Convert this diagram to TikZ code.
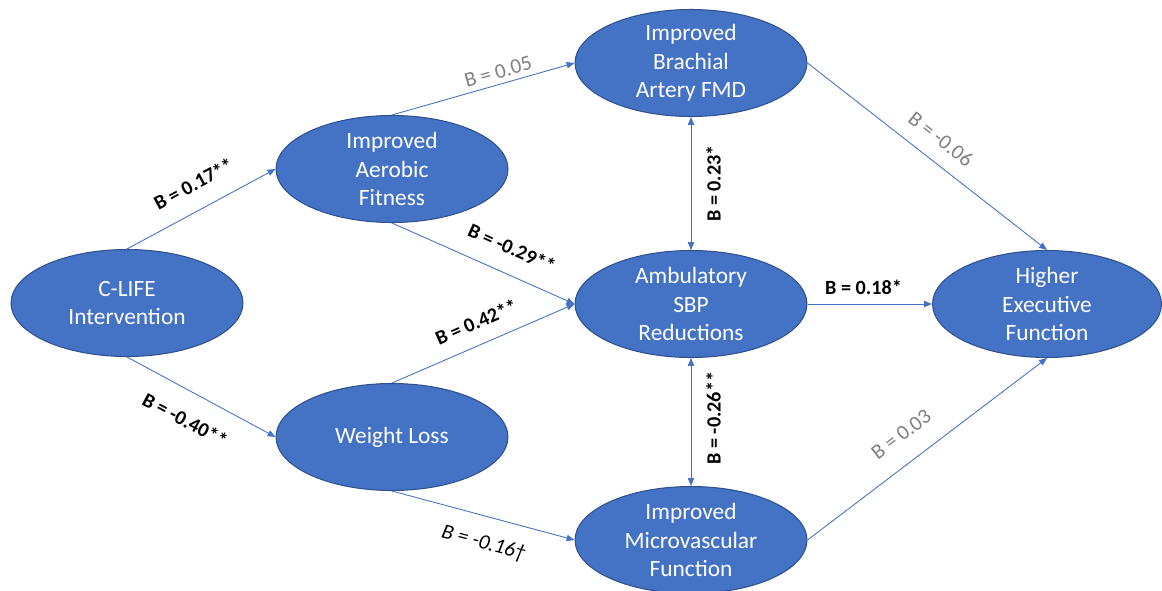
\documentclass[tikz,border=0pt]{standalone}
\usepackage{fontspec}
\setmainfont{Carlito}
\usepackage{xcolor}
\usetikzlibrary{shapes.geometric, arrows.meta}

\definecolor{nodeblue}{HTML}{4472C4}
\definecolor{rimblue}{HTML}{2F528F}
\definecolor{nsgray}{HTML}{7F7F7F}

\begin{document}
\begin{tikzpicture}[x=0.02cm, y=-0.02cm, >={Triangle[length=4.5pt, width=3.6pt]}]
    \tikzstyle{factor} = [ellipse, draw=rimblue, fill=nodeblue, line width=0.6pt, text=white, align=center, inner xsep=0pt, inner ysep=-1.5pt, minimum width=4.64cm, minimum height=2.14cm, font=\fontsize{13.3}{16.2}\selectfont]
    \tikzstyle{link} = [draw=nodeblue, line width=0.5pt, ->]
    \tikzstyle{sig} = [font=\fontsize{11.5}{13}\selectfont\bfseries, sloped]
    \tikzstyle{nsig} = [font=\fontsize{12}{13}\selectfont, text=nsgray, sloped]
    \tikzstyle{trend} = [font=\fontsize{12}{13}\selectfont\itshape, sloped]

    \useasboundingbox (0,0) rectangle (1162,591);

    % factors
    \node (cl) [factor] at (127,303) {C-LIFE\\Intervention};
    \node (fit) [factor] at (392,169) {Improved\\Aerobic\\Fitness};
    \node (wl) [factor] at (392,437) {Weight Loss};
    \node (fmd) [factor] at (691,63) {Improved\\Brachial\\Artery FMD};
    \node (sbp) [factor] at (691,304) {Ambulatory\\SBP\\Reductions};
    \node (mv) [factor] at (691,540) {Improved\\Microvascular\\Function};
    \node (ef) [factor, minimum width=4.58cm] at (1047,304) {Higher\\Executive\\Function};

    % paths
    \draw [link] (cl.north) -- node[sig, above=7pt, pos=0.53] {B = 0.17**} (fit.west);
    \draw [link] (cl.south) -- node[sig, below=8pt, pos=0.48] {B = -0.40**} (wl.west);
    \draw [link] (fit.north) -- node[nsig, above=-0.5pt, pos=0.6] {B = 0.05} (fmd.west);
    \draw [link] (fit.south) -- node[sig, above=7pt, pos=0.6] {B = -0.29**} (sbp.west);
    \draw [link] (wl.north) -- node[sig, above=5pt, pos=0.51] {B = 0.42**} (sbp.west);
    \draw [link] (wl.south) -- node[trend, below=6.5pt, pos=0.54] {B = -0.16\textdagger} (mv.west);
    \draw [link, <->] (sbp.north) -- node[sig, below=5pt, pos=0.5] {B = 0.23*} (fmd.south);
    \draw [link, <->] (mv.north) -- node[sig, below=5pt, pos=0.53] {B = -0.26**} (sbp.south);
    \draw [link] (fmd.east) -- node[nsig, above=5pt, pos=0.5] {B = -0.06} (ef.north);
    \draw [link] (sbp.east) -- node[sig, above=2pt, pos=0.45] {B = 0.18*} (ef.west);
    \draw [link] (mv.east) -- node[nsig, above=8pt, pos=0.46] {B = 0.03} (ef.south);
\end{tikzpicture}
\end{document}
